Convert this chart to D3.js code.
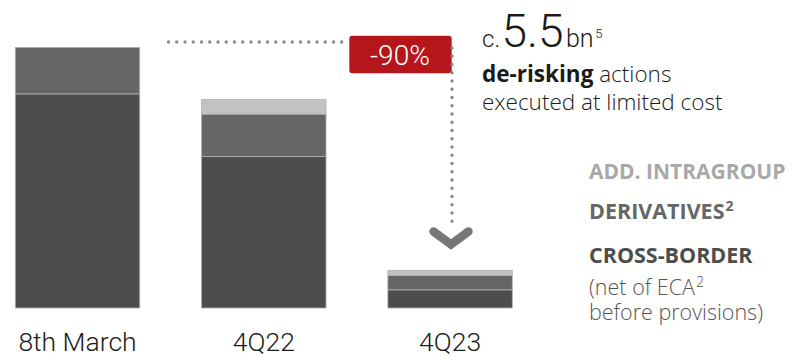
<!DOCTYPE html>
<html>
<head>
<meta charset="utf-8">
<script src="https://cdn.jsdelivr.net/npm/d3@7"></script>
<style>
  html, body { margin: 0; padding: 0; background: #fff; }
  svg { display: block; font-family: "Open Sans", Roboto, sans-serif; }
</style>
</head>
<body>
<svg id="chart" width="794" height="357"></svg>
<script>
// Periods on the x axis
const categories = ["8th March", "4Q22", "4Q23"];

// Exposure components per period (EUR bn)
const crossBorder = [5.30, 3.75, 0.45];
const derivatives = [1.15, 1.05, 0.36];
const addIntragroup = [0.00, 0.36, 0.12];

const seriesKeys = ["crossBorder", "derivatives", "addIntragroup"];
const seriesColors = ["#4d4d4d", "#666666", "#c2c2c2"];

const reductionLabel = "-90%";
const deRiskAmount = "5.5";

const rows = categories.map((c, i) => ({
  category: c,
  crossBorder: crossBorder[i],
  derivatives: derivatives[i],
  addIntragroup: addIntragroup[i]
}));

const svg = d3.select("#chart");

const x = d3.scaleBand()
  .domain(categories)
  .range([15.3, 512.3])
  .paddingInner(0.332)
  .paddingOuter(0);

const y = d3.scaleLinear()
  .domain([0, 6.5])
  .range([308, 308 - 6.5 * 40.4]);

const stacked = d3.stack().keys(seriesKeys)(rows);

// Stacked bars
svg.append("g")
  .selectAll("g")
  .data(stacked)
  .join("g")
  .attr("fill", (d, i) => seriesColors[i])
  .selectAll("rect")
  .data(d => d.filter(s => s[1] - s[0] > 0))
  .join("rect")
  .attr("x", d => x(d.data.category))
  .attr("width", x.bandwidth())
  .attr("y", d => y(d[1]))
  .attr("height", d => y(d[0]) - y(d[1]))
  .attr("stroke", "#b0b0b0")
  .attr("stroke-width", 0.8);

// Category axis labels
const xAxis = d3.axisBottom(x).tickSize(0).tickPadding(0);
const gx = svg.append("g").attr("transform", "translate(0,331)").call(xAxis);
gx.select(".domain").remove();
gx.selectAll("text")
  .attr("dy", "0.75em")
  .attr("font-size", 26.5)
  .attr("font-weight", 300)
  .attr("fill", "#1a1a1a")
  .style("font-family", "Roboto, sans-serif");

// Reduction annotation: dotted guide, red tag, arrow
const dotted = { stroke: "#8a8a8a", width: 3.4, dash: "0 8.25" };

svg.append("line")
  .attr("x1", 168.5).attr("x2", 350)
  .attr("y1", 42).attr("y2", 42)
  .attr("stroke", dotted.stroke)
  .attr("stroke-width", dotted.width)
  .attr("stroke-linecap", "round")
  .attr("stroke-dasharray", dotted.dash);

svg.append("rect")
  .attr("x", 349.3).attr("y", 35.7)
  .attr("width", 102.4).attr("height", 37.6)
  .attr("rx", 3)
  .attr("fill", "#b5161b");

svg.append("text")
  .attr("x", 400).attr("y", 65)
  .attr("text-anchor", "middle")
  .attr("font-size", 28)
  .attr("font-weight", 300)
  .attr("fill", "#ffffff")
  .style("font-family", "Roboto, sans-serif")
  .text(reductionLabel);

svg.append("line")
  .attr("x1", 452).attr("x2", 452)
  .attr("y1", 48).attr("y2", 224)
  .attr("stroke", dotted.stroke)
  .attr("stroke-width", dotted.width)
  .attr("stroke-linecap", "round")
  .attr("stroke-dasharray", dotted.dash);

svg.append("path")
  .attr("d", "M433.5,231.5 L451,244.5 L468.5,231.5")
  .attr("fill", "none")
  .attr("stroke", "#777777")
  .attr("stroke-width", 8.5)
  .attr("stroke-linecap", "round")
  .attr("stroke-linejoin", "miter");

// Headline figure
const head = svg.append("text").attr("fill", "#1a1a1a").attr("font-weight", 300)
  .style("font-family", "Roboto, sans-serif");
head.append("tspan").attr("x", 482).attr("y", 46.7).attr("font-size", 24).text("c.");
head.append("tspan").attr("x", 501.5).attr("y", 46.7).attr("font-size", 46).text(deRiskAmount);
head.append("tspan").attr("x", 566).attr("y", 46.7).attr("font-size", 25).text("bn");
head.append("tspan").attr("dx", 1.5).attr("y", 38).attr("font-size", 13).text("5");

const sub1 = svg.append("text").attr("x", 482).attr("y", 82)
  .attr("font-size", 22.5).attr("fill", "#1a1a1a");
sub1.append("tspan").attr("font-weight", 700).text("de-risking");
sub1.append("tspan").attr("font-weight", 300).text(" actions");

svg.append("text").attr("x", 482).attr("y", 110)
  .attr("font-size", 22.5).attr("font-weight", 300).attr("fill", "#1a1a1a")
  .text("executed at limited cost");

// Legend
const legendX = 589;
svg.append("text").attr("x", legendX).attr("y", 179)
  .attr("font-size", 21).attr("font-weight", 700).attr("fill", "#a8a8a8")
  .text("ADD. INTRAGROUP");

const der = svg.append("text").attr("x", legendX).attr("y", 219)
  .attr("font-size", 21.5).attr("font-weight", 700).attr("fill", "#666666");
der.append("tspan").text("DERIVATIVES");
der.append("tspan").attr("font-size", 14).attr("dx", 1).attr("dy", -8).text("2");

svg.append("text").attr("x", legendX).attr("y", 263)
  .attr("font-size", 21.5).attr("font-weight", 700).attr("fill", "#4d4d4d")
  .text("CROSS-BORDER");

const eca = svg.append("text").attr("x", legendX).attr("y", 295)
  .attr("font-size", 21.5).attr("font-weight", 300).attr("fill", "#555555");
eca.append("tspan").text("(net of ECA");
eca.append("tspan").attr("font-size", 14).attr("dx", 1).attr("dy", -8).text("2");

svg.append("text").attr("x", legendX).attr("y", 320)
  .attr("font-size", 21.5).attr("font-weight", 300).attr("fill", "#555555")
  .text("before provisions)");
</script>
</body>
</html>
